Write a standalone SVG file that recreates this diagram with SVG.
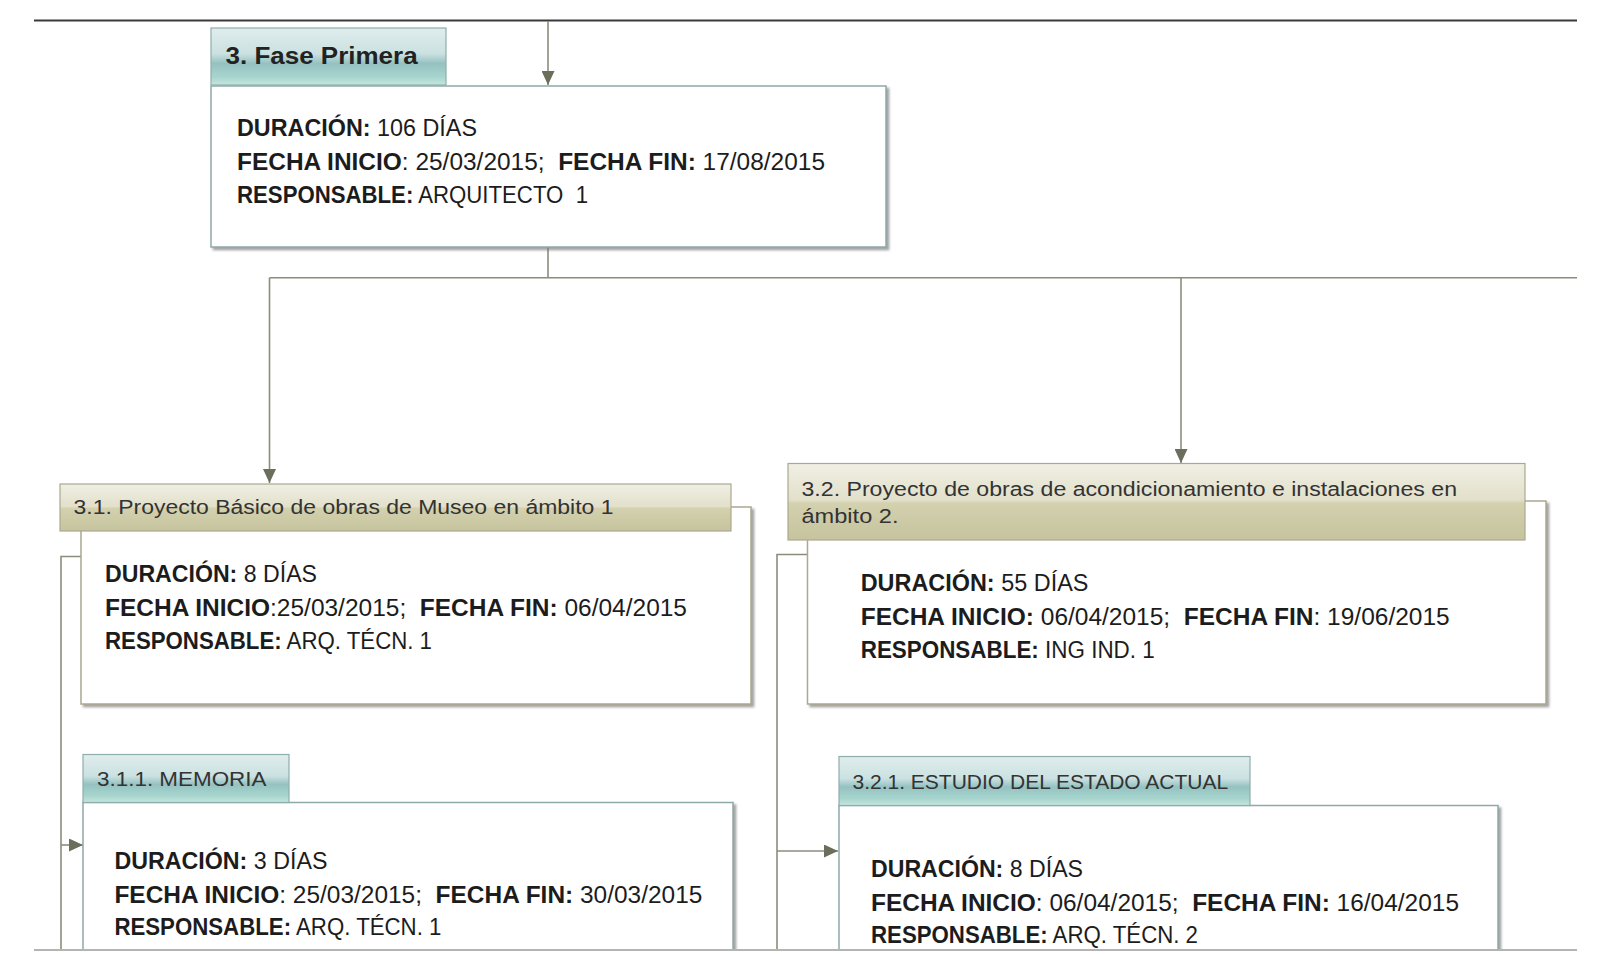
<svg xmlns="http://www.w3.org/2000/svg" width="1601" height="954" viewBox="0 0 1601 954">
<style>
text{font-family:"Liberation Sans",Arial,sans-serif;white-space:pre;fill:#1c1c1c}
.b{font-weight:bold}
.body{font-size:23.5px}
.hd{font-size:19.5px;fill:#333}
.conn{fill:none;stroke:#8c8c7c;stroke-width:1.6}
.tealbody{fill:#fff;stroke:#8fa9a9;stroke-width:1.5;filter:url(#sh)}
.olivebody{fill:#fff;stroke:#aaa892;stroke-width:1.5;filter:url(#sh)}
.tealhd{fill:url(#gt);stroke:#8fadab;stroke-width:1.2}
.olivehd{fill:url(#go);stroke:#aaa890;stroke-width:1.2}
</style>
<defs>
<linearGradient id="gt" x1="0" y1="0" x2="0" y2="1">
<stop offset="0" stop-color="#e0eded"/>
<stop offset="0.45" stop-color="#cbe1e1"/>
<stop offset="0.62" stop-color="#95c2c1"/>
<stop offset="0.85" stop-color="#a6d4cd"/>
<stop offset="1" stop-color="#c4e6de"/>
</linearGradient>
<linearGradient id="go" x1="0" y1="0" x2="0" y2="1">
<stop offset="0" stop-color="#f0efe4"/>
<stop offset="0.48" stop-color="#e2e0ca"/>
<stop offset="0.52" stop-color="#d3d1ae"/>
<stop offset="1" stop-color="#c6c39e"/>
</linearGradient>
<filter id="sh" x="-5%" y="-5%" width="110%" height="115%">
<feDropShadow dx="2.5" dy="2.5" stdDeviation="1.2" flood-color="#7a7a7a" flood-opacity="0.7"/>
</filter>
<marker id="ar" markerUnits="userSpaceOnUse" markerWidth="15" markerHeight="13" refX="14" refY="6.5" orient="auto">
<path d="M0,0 L14,6.5 L0,13 z" fill="#6c6e5c"/>
</marker>
</defs>
<rect width="1601" height="954" fill="#fff"/>

<g id="connectors">
<line x1="34" y1="20.5" x2="1577" y2="20.5" stroke="#3a3a3a" stroke-width="2"/>
<line class="conn" x1="548" y1="21" x2="548" y2="85" marker-end="url(#ar)"/>
<path class="conn" d="M548,247 V277.7 M269.5,277.7 H1577"/>
<line class="conn" x1="269.5" y1="277.7" x2="269.5" y2="483" marker-end="url(#ar)"/>
<line class="conn" x1="1181" y1="277.7" x2="1181" y2="463" marker-end="url(#ar)"/>
<path class="conn" d="M81,556.5 H61 V952"/>
<line class="conn" x1="61" y1="845" x2="83" y2="845" marker-end="url(#ar)"/>
<path class="conn" d="M807.5,554.5 H777 V952"/>
<line class="conn" x1="777" y1="851" x2="838" y2="851" marker-end="url(#ar)"/>
</g>

<g id="fase-primera">
<rect class="tealbody" x="211" y="86" width="675" height="161"/>
<rect class="tealhd" x="211" y="28" width="235" height="57"/>
<text x="225.6" y="63.5" class="b" style="font-size:23.5px;fill:#222" textLength="192" lengthAdjust="spacingAndGlyphs">3. Fase Primera</text>
<text class="body" x="237" y="135.8" textLength="240" lengthAdjust="spacingAndGlyphs"><tspan class="b">DURACIÓN:</tspan> 106 DÍAS</text>
<text class="body" x="237" y="169.5" textLength="588" lengthAdjust="spacingAndGlyphs"><tspan class="b">FECHA INICIO</tspan>: 25/03/2015;  <tspan class="b">FECHA FIN:</tspan> 17/08/2015</text>
<text class="body" x="237" y="202.5" textLength="351" lengthAdjust="spacingAndGlyphs"><tspan class="b">RESPONSABLE:</tspan> ARQUITECTO  1</text>
</g>

<g id="n31">
<rect class="olivebody" x="81" y="507" width="670" height="197"/>
<rect class="olivehd" x="60" y="484" width="671" height="47"/>
<text class="hd" x="73.5" y="514" textLength="540" lengthAdjust="spacingAndGlyphs">3.1. Proyecto Básico de obras de Museo en ámbito 1</text>
<text class="body" x="105" y="582" textLength="212" lengthAdjust="spacingAndGlyphs"><tspan class="b">DURACIÓN:</tspan> 8 DÍAS</text>
<text class="body" x="105" y="615.7" textLength="582" lengthAdjust="spacingAndGlyphs"><tspan class="b">FECHA INICIO</tspan>:25/03/2015;  <tspan class="b">FECHA FIN:</tspan> 06/04/2015</text>
<text class="body" x="105" y="649.3" textLength="327" lengthAdjust="spacingAndGlyphs"><tspan class="b">RESPONSABLE:</tspan> ARQ. TÉCN. 1</text>
</g>

<g id="n32">
<rect class="olivebody" x="807.5" y="501" width="738.5" height="203"/>
<rect class="olivehd" x="788" y="463.5" width="737" height="76.5"/>
<text class="hd" x="801.5" y="495.5" textLength="655.5" lengthAdjust="spacingAndGlyphs">3.2. Proyecto de obras de acondicionamiento e instalaciones en</text>
<text class="hd" x="801.5" y="523" textLength="97" lengthAdjust="spacingAndGlyphs">ámbito 2.</text>
<text class="body" x="860.7" y="591" textLength="227.7" lengthAdjust="spacingAndGlyphs"><tspan class="b">DURACIÓN:</tspan> 55 DÍAS</text>
<text class="body" x="860.7" y="625" textLength="589" lengthAdjust="spacingAndGlyphs"><tspan class="b">FECHA INICIO:</tspan> 06/04/2015;  <tspan class="b">FECHA FIN</tspan>: 19/06/2015</text>
<text class="body" x="860.7" y="657.5" textLength="294" lengthAdjust="spacingAndGlyphs"><tspan class="b">RESPONSABLE:</tspan> ING IND. 1</text>
</g>

<g id="n311">
<rect class="tealbody" x="83" y="802.5" width="650" height="170"/>
<rect class="tealhd" x="83" y="754.5" width="206" height="48"/>
<text class="hd" x="97" y="785.5" textLength="169.5" lengthAdjust="spacingAndGlyphs">3.1.1. MEMORIA</text>
<text class="body" x="114.4" y="869" textLength="213" lengthAdjust="spacingAndGlyphs"><tspan class="b">DURACIÓN:</tspan> 3 DÍAS</text>
<text class="body" x="114.4" y="902.5" textLength="588" lengthAdjust="spacingAndGlyphs"><tspan class="b">FECHA INICIO</tspan>: 25/03/2015;  <tspan class="b">FECHA FIN:</tspan> 30/03/2015</text>
<text class="body" x="114.4" y="935" textLength="327" lengthAdjust="spacingAndGlyphs"><tspan class="b">RESPONSABLE:</tspan> ARQ. TÉCN. 1</text>
</g>

<g id="n321">
<rect class="tealbody" x="839" y="805.5" width="659" height="170"/>
<rect class="tealhd" x="839" y="756.5" width="411" height="49"/>
<text class="hd" x="852.5" y="788.5" textLength="375.7" lengthAdjust="spacingAndGlyphs">3.2.1. ESTUDIO DEL ESTADO ACTUAL</text>
<text class="body" x="871" y="877" textLength="212" lengthAdjust="spacingAndGlyphs"><tspan class="b">DURACIÓN:</tspan> 8 DÍAS</text>
<text class="body" x="871" y="910.7" textLength="588" lengthAdjust="spacingAndGlyphs"><tspan class="b">FECHA INICIO</tspan>: 06/04/2015;  <tspan class="b">FECHA FIN:</tspan> 16/04/2015</text>
<text class="body" x="871" y="943.4" textLength="327" lengthAdjust="spacingAndGlyphs"><tspan class="b">RESPONSABLE:</tspan> ARQ. TÉCN. 2</text>
</g>

<rect x="0" y="950" width="1601" height="4" fill="#fff"/>
<line x1="34" y1="950" x2="1577" y2="950" stroke="#b4b4b4" stroke-width="2"/>
</svg>
